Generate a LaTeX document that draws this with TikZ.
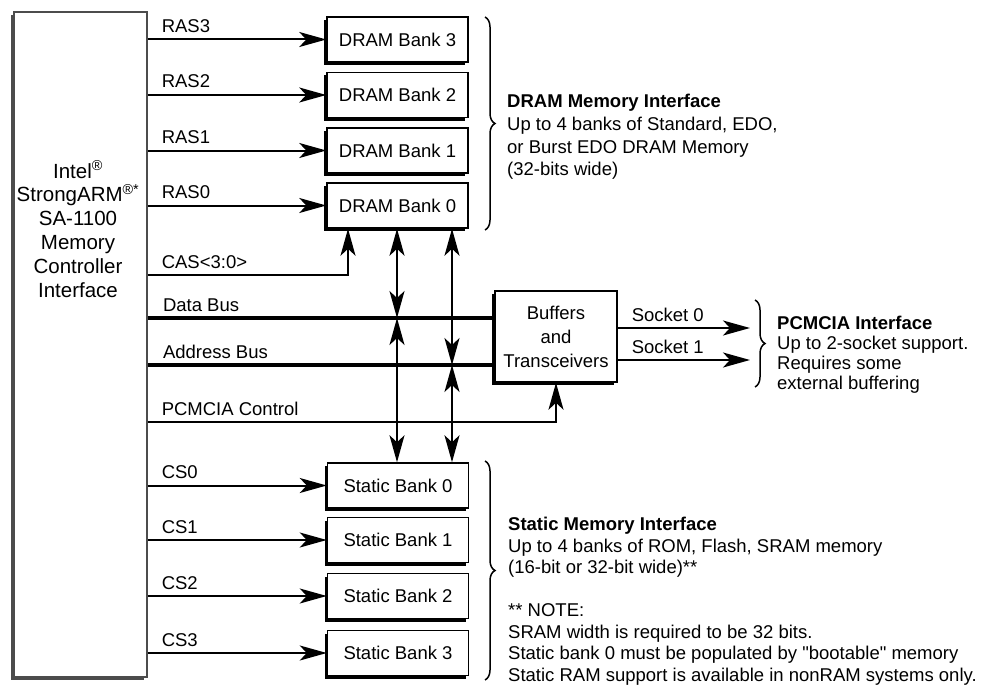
\documentclass[tikz,border=0pt]{standalone}
\usepackage{fontspec}
\setmainfont{Liberation Sans}
\usetikzlibrary{arrows.meta}
\usetikzlibrary{shadows}
\usetikzlibrary{decorations.pathreplacing}
\tikzstyle{bank}=[draw, line width=1.5pt, fill=white, minimum width=141pt, minimum height=45pt, drop shadow={shadow xshift=-3pt, shadow yshift=-3pt, fill=black, opacity=1}]
\tikzstyle{ctrlbox}=[draw=black!70, line width=1.5pt, fill=white, minimum width=133pt, minimum height=665pt, drop shadow={shadow xshift=-3pt, shadow yshift=-3pt, fill=black!70, opacity=1}]
\tikzstyle{sig}=[line width=2pt]
\tikzstyle{edge}=[sig, ->]
\tikzstyle{dbl}=[sig, <->]
\tikzstyle{bus}=[line width=4.5pt]
\tikzstyle{lbl}=[anchor=base west, inner sep=0pt, xshift=13pt, yshift=7pt]
\tikzstyle{brc}=[decorate, decoration={brace, amplitude=10pt}, line width=1.5pt]
\tikzstyle{note}=[anchor=west, align=left, inner sep=0pt]

\begin{document}
\begin{tikzpicture}[x=1pt, y=-1pt, font=\fontsize{18.5}{21.6}\selectfont, >={Stealth[length=27pt, width=15pt, inset=7pt]}]
	\useasboundingbox (0,0) rectangle (983,685);
	\draw (80.5,344.5) node[ctrlbox] (ctrl) {};
	\draw (78,229) node[align=center, inner sep=0pt, font=\fontsize{20.5}{23.8}\selectfont] (ctrltxt) {Intel\textsuperscript{®}\\StrongARM\textsuperscript{®*}\\SA-1100\\Memory\\Controller\\Interface};
	\draw (397.5,39.5) node[bank] (d3) {DRAM Bank 3};
	\draw (397.5,95) node[bank] (d2) {DRAM Bank 2};
	\draw (397.5,150.5) node[bank] (d1) {DRAM Bank 1};
	\draw (397.5,205.5) node[bank] (d0) {DRAM Bank 0};
	\draw (398,485.5) node[bank] (s0) {Static Bank 0};
	\draw (398,540) node[bank] (s1) {Static Bank 1};
	\draw (398,596) node[bank] (s2) {Static Bank 2};
	\draw (398,653) node[bank] (s3) {Static Bank 3};
	\draw (556,336.5) node[bank, minimum width=122pt, minimum height=91pt, align=center, font=\fontsize{18.5}{24}\selectfont] (buf) {Buffers\\and\\Transceivers};
	\coordinate (cas) at (348,275);
	\coordinate (db) at (0,318);
	\coordinate (ab) at (0,365);
	\coordinate (pc) at (0,422);
	\coordinate (c2) at (397,0);
	\coordinate (c3) at (452,0);
	\coordinate (k0) at (750,328);
	\coordinate (k1) at (750,360);
	\draw[edge] (ctrl.east |- d3) node[lbl] {RAS3} -- (d3.west);
	\draw[edge] (ctrl.east |- d2) node[lbl] {RAS2} -- (d2.west);
	\draw[edge] (ctrl.east |- d1) node[lbl] {RAS1} -- (d1.west);
	\draw[edge] (ctrl.east |- d0) node[lbl] {RAS0} -- (d0.west);
	\draw[edge] (ctrl.east |- cas) node[lbl] {CAS<3:0>} -| (cas |- d0.south);
	\draw[bus] (ctrl.east |- db) node[lbl] {Data Bus} -- (buf.west |- db);
	\draw[bus] (ctrl.east |- ab) node[lbl] {Address Bus} -- (buf.west |- ab);
	\draw[edge] (ctrl.east |- pc) node[lbl] {PCMCIA Control} -| (buf.south);
	\draw[dbl] (c2 |- d0.south) -- (c2 |- db);
	\draw[dbl] (c2 |- db) -- (c2 |- s0.north);
	\draw[dbl] (c3 |- d0.south) -- (c3 |- ab);
	\draw[dbl] (c3 |- ab) -- (c3 |- s0.north);
	\draw[edge] (ctrl.east |- s0) node[lbl] {CS0} -- (s0.west);
	\draw[edge] (ctrl.east |- s1) node[lbl] {CS1} -- (s1.west);
	\draw[edge] (ctrl.east |- s2) node[lbl] {CS2} -- (s2.west);
	\draw[edge] (ctrl.east |- s3) node[lbl] {CS3} -- (s3.west);
	\draw[edge] (buf.east |- k0) node[lbl] {Socket 0} -- (k0);
	\draw[edge] (buf.east |- k1) node[lbl] {Socket 1} -- (k1);
	\draw[brc] (485,17) -- (485,230);
	\draw[brc] (755,300) -- (755,387);
	\draw[brc] (485,461) -- (485,680);
	\draw (507,137) node[note, font=\fontsize{18.5}{22.7}\selectfont] (dramtxt) {\textbf{DRAM Memory Interface}\\Up to 4 banks of Standard, EDO,\\or Burst EDO DRAM Memory\\(32-bits wide)};
	\draw (777,354.5) node[note, font=\fontsize{18.5}{20}\selectfont] (pctxt) {\textbf{PCMCIA Interface}\\Up to 2-socket support.\\Requires some\\external buffering};
	\draw (508,601) node[note, font=\fontsize{18.5}{21.5}\selectfont] (stattxt) {\textbf{Static Memory Interface}\\Up to 4 banks of ROM, Flash, SRAM memory\\(16-bit or 32-bit wide)**\\[21.5pt]** NOTE:\\SRAM width is required to be 32 bits.\\Static bank 0 must be populated by \textquotedbl bootable\textquotedbl{} memory\\Static RAM support is available in nonRAM systems only.};
\end{tikzpicture}
\end{document}
